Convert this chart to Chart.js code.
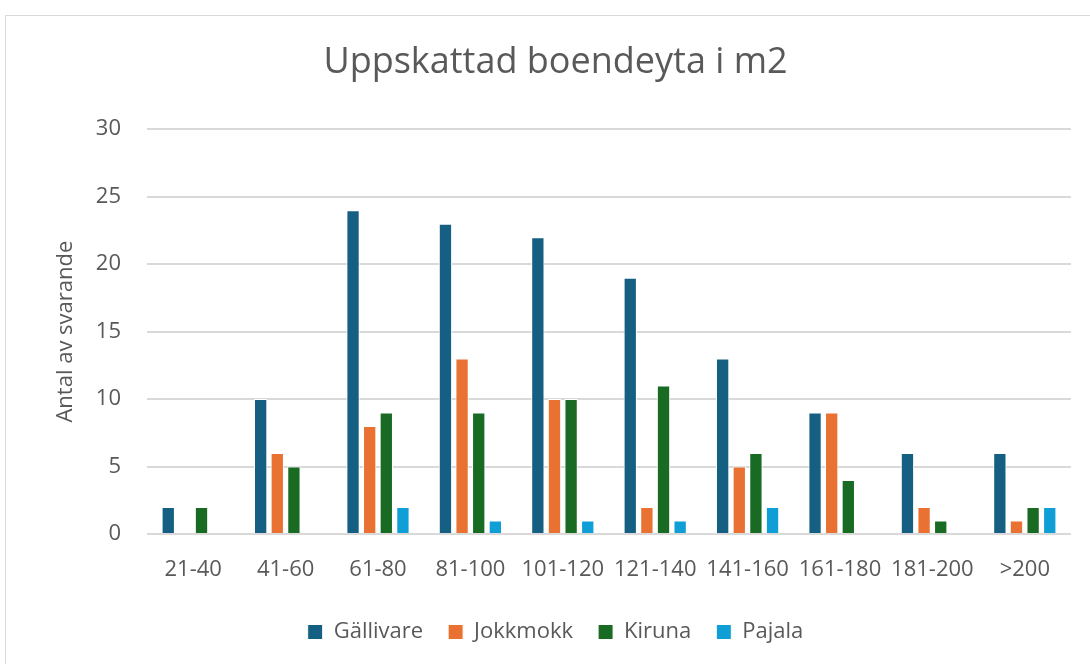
<!DOCTYPE html>
<html>
<head>
<meta charset="utf-8">
<script src="https://cdn.jsdelivr.net/npm/chart.js@4/dist/chart.umd.min.js"></script>
<style>
html,body{margin:0;padding:0;background:#fff;width:1090px;height:664px;overflow:hidden;}
#box{position:absolute;left:5px;top:15px;width:1100px;height:680px;border:1px solid #d9d9d9;box-sizing:border-box;}
#wrap{position:absolute;left:6px;top:16px;width:1084px;height:660px;}
</style>
</head>
<body>
<div id="box"></div>
<div id="wrap"><canvas id="c"></canvas></div>
<script>
const categories = ['21-40','41-60','61-80','81-100','101-120','121-140','141-160','161-180','181-200','>200'];
const gallivare = [2,10,24,23,22,19,13,9,6,6];
const jokkmokk  = [0,6,8,13,10,2,5,9,2,1];
const kiruna    = [2,5,9,9,10,11,6,4,1,2];
const pajala    = [0,0,2,1,1,1,2,0,0,2];
const seriesNames = ['Gällivare','Jokkmokk','Kiruna','Pajala'];
const colors = ['#156082','#e97132','#196b24','#0f9ed5'];
const yTicks = [0,5,10,15,20,25,30];

const font = '"Open Sans", "Liberation Sans", Arial, sans-serif';
const txt = '#595959';

new Chart(document.getElementById('c'), {
  type: 'bar',
  data: {
    labels: categories,
    datasets: [gallivare, jokkmokk, kiruna, pajala].map((d,i)=>({
      label: seriesNames[i],
      data: d,
      backgroundColor: colors[i],
      borderColor: '#ffffff',
      borderWidth: 1,
      categoryPercentage: 0.72,
      barPercentage: 0.8
    }))
  },
  options: {
    responsive: true,
    maintainAspectRatio: false,
    animation: false,
    layout: {padding: {top: 25, right: 19, left: 34, bottom: 23}},
    plugins: {
      title: {
        display: true,
        text: 'Uppskattad boendeyta i m2',
        color: txt,
        font: {family: font, size: 36, weight: 'normal'},
        padding: {top: 0, bottom: 45}
      },
      legend: {
        position: 'bottom',
        labels: {
          color: txt,
          font: {family: font, size: 22},
          boxWidth: 15, boxHeight: 15,
          padding: 25
        }
      },
      tooltip: {enabled: false}
    },
    scales: {
      x: {
        grid: {display: false},
        border: {display: false},
        afterFit: s => { s.height = 62; },
        ticks: {color: txt, font: {family: font, size: 22}, padding: 15, maxRotation: 0, autoSkip: false}
      },
      y: {
        min: 0, max: 30,
        afterBuildTicks: s => { s.ticks = yTicks.map(v => ({value: v})); },
        afterFit: s => { s.width = 107; },
        grid: {color: '#d9d9d9', lineWidth: 2, drawTicks: false},
        border: {display: false},
        ticks: {color: txt, font: {family: font, size: 22}, padding: 26},
        title: {display: true, text: 'Antal av svarande', color: txt, font: {family: font, size: 22}, padding: {top: 13, bottom: 0}}
      }
    }
  }
});
</script>
</body>
</html>
